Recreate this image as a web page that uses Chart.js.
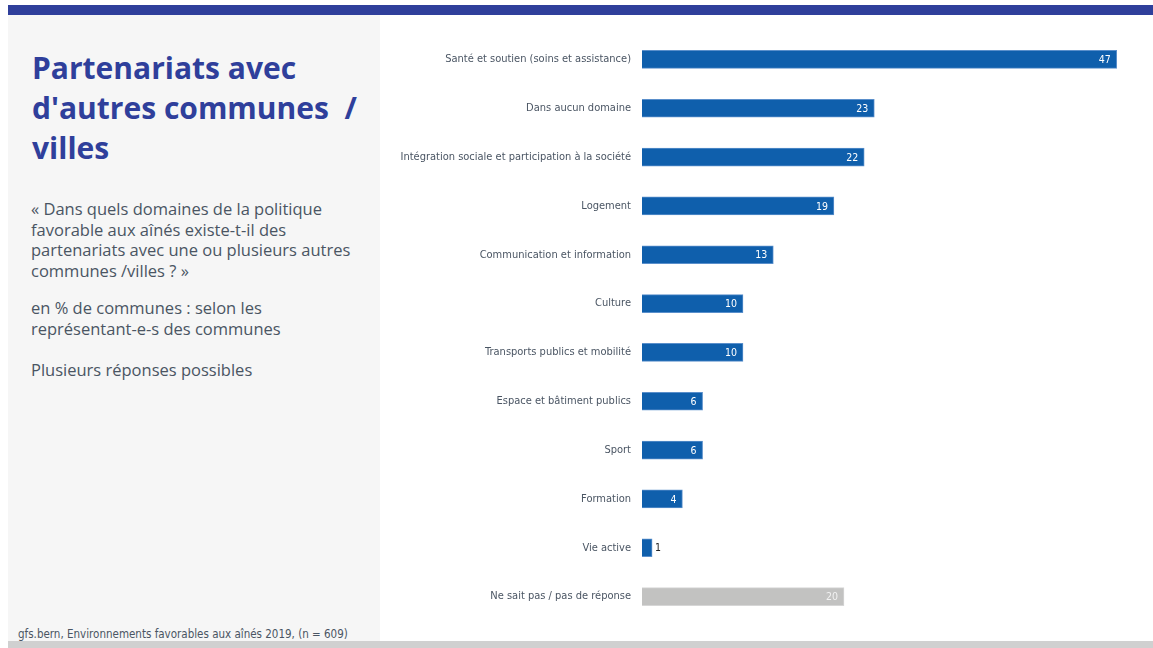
<!DOCTYPE html>
<html lang="fr">
<head>
	<meta charset="UTF-8">
	<title>Partenariats avec d'autres communes / villes</title>
	<script src="https://cdn.jsdelivr.net/npm/chart.js"></script>
	<style>
		body { margin: 0; width: 1153px; height: 648px; position: relative; background: #fff; overflow: hidden; font-family: "Open Sans", sans-serif; }
		#topbar { position: absolute; left: 8px; top: 5px; width: 1145px; height: 10px; background: #2F3F9B; }
		#side { position: absolute; left: 8px; top: 15px; width: 372px; height: 626px; background: #F6F6F6; }
		#bottombar { position: absolute; left: 8px; top: 641px; width: 1145px; height: 7px; background: #D0D0D0; }
		h1 { position: absolute; left: 24px; top: 33px; margin: 0; font-size: 30px; line-height: 40px; font-weight: 700; color: #2F3F9B; }
		.txt { position: absolute; left: 23px; margin: 0; font-size: 16.5px; line-height: 20.5px; color: #4A5563; white-space: nowrap; }
		#source { position: absolute; left: 18px; top: 627px; font-family: "DejaVu Sans Condensed", "Open Sans", sans-serif; font-size: 11.5px; color: #4A5563; }
		#wrap { position: absolute; left: 380px; top: 15px; width: 773px; height: 626px; }
	</style>
</head>
<body>
	<div id="topbar"></div>
	<div id="side">
		<h1>Partenariats avec<br>d'autres communes&nbsp; /<br>villes</h1>
		<p class="txt" style="top:184px">« Dans quels domaines de la politique<br>favorable aux aînés existe-t-il des<br>partenariats avec une ou plusieurs autres<br>communes /villes ? »</p>
		<p class="txt" style="top:283px">en % de communes : selon les<br>représentant-e-s des communes</p>
		<p class="txt" style="top:345px">Plusieurs réponses possibles</p>
	</div>
	<div id="source">gfs.bern, Environnements favorables aux aînés 2019, (n = 609)</div>
	<div id="bottombar"></div>
	<div id="wrap"><canvas id="chart" width="773" height="626"></canvas></div>
<script>
	const categories = [
		'Santé et soutien (soins et assistance)',
		'Dans aucun domaine',
		'Intégration sociale et participation à la société',
		'Logement',
		'Communication et information',
		'Culture',
		'Transports publics et mobilité',
		'Espace et bâtiment publics',
		'Sport',
		'Formation',
		'Vie active',
		'Ne sait pas / pas de réponse'
	];
	const values = [47, 23, 22, 19, 13, 10, 10, 6, 6, 4, 1, 20];
	const barColors = values.map((v, i) => i === values.length - 1 ? '#C2C2C1' : '#0F5FAC');

	const labelFont = '"DejaVu Sans Condensed", "Open Sans", sans-serif';

	// value labels at the end of each bar
	const valueLabels = {
		id: 'valueLabels',
		afterDatasetsDraw(chart) {
			const c = chart.ctx;
			const meta = chart.getDatasetMeta(0);
			c.save();
			c.font = '10.5px ' + labelFont;
			c.textBaseline = 'middle';
			meta.data.forEach((bar, i) => {
				const v = values[i];
				if (bar.x - bar.base < 20) {
					c.fillStyle = '#222';
					c.textAlign = 'left';
					c.fillText(v, bar.x + 3, bar.y + 1);
				} else {
					c.fillStyle = i === values.length - 1 ? '#F2F2F2' : '#fff';
					c.textAlign = 'right';
					c.fillText(v, bar.x - 6, bar.y + 1);
				}
			});
			c.restore();
		}
	};

	new Chart(document.getElementById('chart'), {
		type: 'bar',
		data: {
			labels: categories,
			datasets: [{
				data: values,
				backgroundColor: barColors,
				borderColor: values.map((v, i) => i === values.length - 1 ? '#D6D6D6' : '#5A8FCB'),
				borderWidth: 1,
				barThickness: 18
			}]
		},
		options: {
			indexAxis: 'y',
			responsive: false,
			animation: false,
			layout: { padding: { top: 20, bottom: 20, right: 6, left: 0 } },
			plugins: { legend: { display: false }, tooltip: { enabled: false } },
			scales: {
				x: { display: false, min: 0, max: 50 },
				y: {
					grid: { display: false, drawTicks: false },
					border: { display: false },
					ticks: { color: '#4A5563', padding: 11, font: { family: labelFont, size: 11 } },
					afterFit(scale) { scale.width = 262; }
				}
			}
		},
		plugins: [valueLabels]
	});
</script>
</body>
</html>
